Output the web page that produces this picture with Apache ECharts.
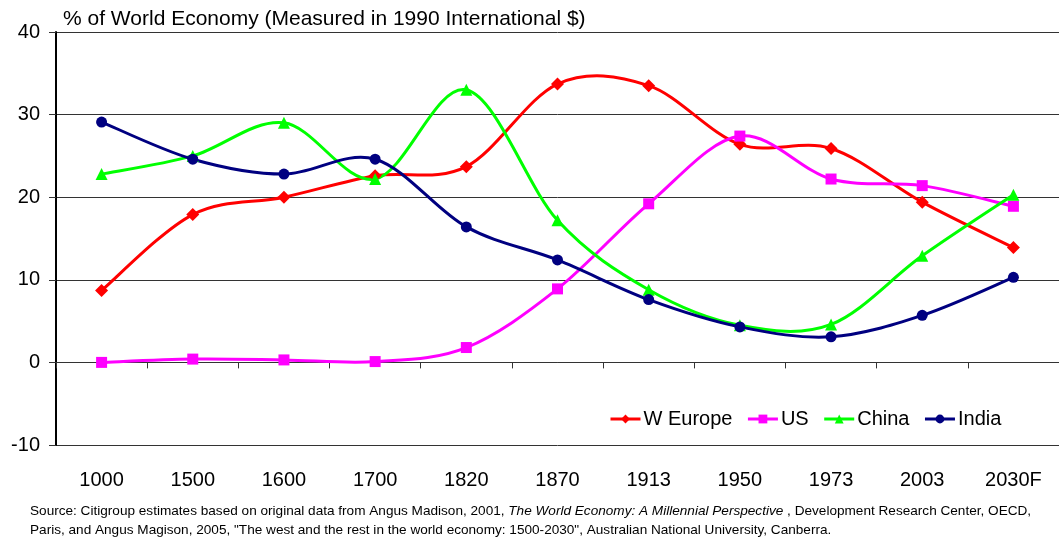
<!DOCTYPE html>
<html>
<head>
<meta charset="utf-8">
<script src="https://cdn.jsdelivr.net/npm/echarts@6/dist/echarts.min.js"></script>
<style>
  html, body { margin: 0; padding: 0; background: #fff; }
  #main { width: 1059px; height: 539px; }
</style>
</head>
<body>
<div id="main"></div>
<script>
// data
const years = ['1000', '1500', '1600', '1700', '1820', '1870', '1913', '1950', '1973', '2003', '2030F'];
const wEurope = [8.7, 17.9, 20.0, 22.6, 23.7, 33.7, 33.5, 26.4, 25.9, 19.4, 13.9];
const us = [0.0, 0.4, 0.3, 0.1, 1.8, 8.9, 19.2, 27.4, 22.2, 21.4, 18.9];
const china = [22.8, 25.0, 29.0, 22.2, 33.0, 17.2, 8.8, 4.5, 4.6, 12.9, 20.3];
const india = [29.1, 24.6, 22.8, 24.6, 16.4, 12.4, 7.6, 4.3, 3.1, 5.7, 10.3];

const font = '"Liberation Sans", Arial, sans-serif';
const colors = { 'W Europe': '#ff0000', 'US': '#ff00ff', 'China': '#00ff00', 'India': '#000080' };

const chart = echarts.init(document.getElementById('main'));

// markers only; the curve itself is drawn by the custom series below
function markers(name, data, symbol, size) {
    return {
        name: name,
        type: 'line',
        data: data,
        symbol: symbol,
        symbolSize: size,
        lineStyle: { color: colors[name], width: 3, opacity: 0 },
        itemStyle: { color: colors[name] },
        z: 4
    };
}

// excel-like smoothed line (catmull-rom through the data points)
function curve(name, data) {
    return {
        type: 'custom',
        data: [0],
        z: 3,
        silent: true,
        renderItem: function (params, api) {
            const pts = data.map((v, i) => api.coord([i, v]));
            const n = pts.length;
            let d = 'M' + pts[0][0] + ' ' + pts[0][1];
            for (let i = 0; i < n - 1; i++) {
                const p0 = pts[Math.max(i - 1, 0)];
                const p1 = pts[i];
                const p2 = pts[i + 1];
                const p3 = pts[Math.min(i + 2, n - 1)];
                const c1 = [p1[0] + (p2[0] - p0[0]) / 6, p1[1] + (p2[1] - p0[1]) / 6];
                const c2 = [p2[0] - (p3[0] - p1[0]) / 6, p2[1] - (p3[1] - p1[1]) / 6];
                d += ' C' + c1[0] + ' ' + c1[1] + ' ' + c2[0] + ' ' + c2[1] + ' ' + p2[0] + ' ' + p2[1];
            }
            return {
                type: 'path',
                shape: { pathData: d },
                style: { fill: 'none', stroke: colors[name], lineWidth: 3, lineJoin: 'round' }
            };
        }
    };
}

const legendNames = ['W Europe', 'US', 'China', 'India'];

const option = {
    animation: false,
    textStyle: { fontFamily: font },
    title: {
        text: '% of World Economy (Measured in 1990 International $)',
        left: 58,
        top: 4,
        textStyle: { fontFamily: font, fontSize: 21, fontWeight: 'normal', color: '#000' }
    },
    legend: {
        left: 604,
        top: 404,
        itemWidth: 30,
        itemHeight: 11,
        itemGap: 14,
        textStyle: { fontFamily: font, fontSize: 20, color: '#000', padding: [0, 0, 0, -2] },
        data: legendNames.map(nm => ({
            name: nm,
            lineStyle: { color: colors[nm], width: 3, opacity: 1 }
        }))
    },
    grid: { left: 56, right: -6, top: 32, bottom: 94 },
    xAxis: [{
        // axis at zero with tick marks between categories
        type: 'category',
        data: years,
        position: 'bottom',
        offset: 0,
        axisLine: { onZero: true, lineStyle: { color: '#333', width: 1 } },
        axisTick: { show: true, length: 6, lineStyle: { color: '#333' } },
        axisLabel: { show: false }
    }, {
        // labels along the bottom
        type: 'category',
        data: years,
        position: 'bottom',
        offset: 0,
        axisLine: { show: false, onZero: false },
        axisTick: { show: false },
        axisLabel: { fontFamily: font, fontSize: 20, color: '#000', margin: 25 }
    }],
    yAxis: {
        type: 'value',
        min: -10,
        max: 40,
        interval: 10,
        axisLine: { show: true, lineStyle: { color: '#000', width: 2 } },
        axisTick: { show: true, length: 7, lineStyle: { color: '#333' } },
        axisLabel: { fontFamily: font, fontSize: 20, color: '#000', margin: 16 },
        splitLine: { lineStyle: { color: '#333', width: 1 } }
    },
    series: [
        markers('W Europe', wEurope, 'diamond', 13),
        markers('US', us, 'rect', 11),
        markers('China', china, 'triangle', 12),
        markers('India', india, 'circle', 11),
        curve('W Europe', wEurope),
        curve('US', us),
        curve('China', china),
        curve('India', india)
    ],
    graphic: [{
        type: 'text',
        left: 30,
        top: 504,
        style: {
            text: '{n|Source: Citigroup estimates based on original data from Angus Madison, 2001, }{i|The World Economy: A Millennial Perspective}{n| , Development Research Center, OECD,}\n' +
                  '{n|Paris, and Angus Magison, 2005, "The west and the rest in the world economy: 1500-2030", Australian National University, Canberra.}',
            rich: {
                n: { fontFamily: font, fontSize: 13.6, color: '#000', lineHeight: 19 },
                i: { fontFamily: font, fontSize: 13.6, fontStyle: 'italic', color: '#000', lineHeight: 19 }
            }
        }
    }]
};

chart.setOption(option);
</script>
</body>
</html>
